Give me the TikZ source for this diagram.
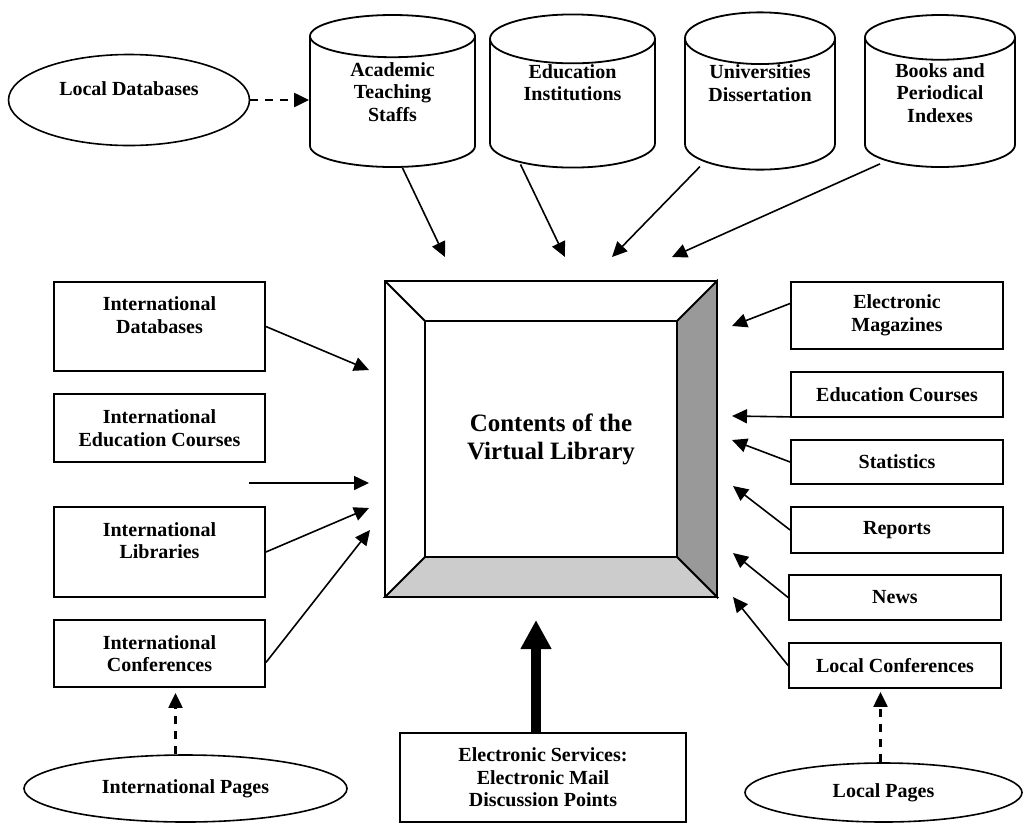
\documentclass[tikz,border=0pt]{standalone}
\usepackage{fontspec}
\setmainfont{Liberation Serif}
\usepackage{tikz}
\usetikzlibrary{shapes.geometric,arrows.meta,positioning}

\begin{document}
\begin{tikzpicture}[x=1pt, y=-1pt,
        every node/.style={font=\fontsize{20}{22.5}\selectfont\bfseries, align=center},
        box/.style={draw, line width=1.8pt, minimum width=211pt, inner sep=0pt},
        db/.style={draw, line width=1.8pt, cylinder, shape border rotate=90, aspect=0.5,
                   minimum height=152pt, inner sep=0pt, anchor=shape center, text depth=20pt},
        oval/.style={draw, line width=1.6pt, ellipse, inner sep=0pt},
        link/.style={line width=1.6pt, -{Triangle[length=15pt,width=14pt]}},
        dlink/.style={link, line width=2.2pt, dash pattern=on 8pt off 7pt}]
    \useasboundingbox (0,0) rectangle (1025,823);

    % databases on top
    \node[oval, minimum width=241pt, minimum height=91pt] (ldb) at (129,100) {Local Databases\\\mbox{}};
    \node[db, minimum width=165pt] (c1) at (392.5,91) {Academic\\Teaching\\Staffs};
    \node[db, minimum width=165pt] (c2) at (572.5,91) {Education\\Institutions\\\mbox{}};
    \node[db, minimum width=150pt] (c3) at (760,91) {Universities\\Dissertation\\\mbox{}};
    \node[db, minimum width=150pt] (c4) at (940,91) {Books and\\Periodical\\Indexes};

    % the library
    \node[draw, line width=1.8pt, outer sep=0pt, minimum width=332pt, minimum height=316pt] (frame) at (551,439) {};
    \filldraw[line width=1.8pt, fill=black!40] (frame.north east) -- (frame.south east)
        -- ++(-40,-40) coordinate (in-se) -- ++(0,-236) coordinate (in-ne) -- cycle;
    \filldraw[line width=1.8pt, fill=black!20] (frame.south west) -- (frame.south east)
        -- (in-se) -- ++(-252,0) coordinate (in-sw) -- cycle;
    \draw[line width=1.8pt] (frame.north west) -- ++(40,40) coordinate (in-nw) -- (in-ne);
    \draw[line width=1.8pt] (in-nw) -- (in-sw);
    \node[font=\fontsize{25}{28}\selectfont\bfseries] (lib) at (551,439) {Contents of the\\Virtual Library};

    % left side
    \node[box, minimum height=89pt] (idb) at (159.5,326.5) {International\\Databases\\\mbox{}};
    \node[box, minimum height=68pt] (iec) at (159.5,428) {International\\Education Courses};
    \node[box, minimum height=90pt] (ilib) at (159.5,552) {International\\Libraries\\\mbox{}};
    \node[box, minimum height=67pt] (iconf) at (159.5,653.5) {International\\Conferences};
    \node[oval, minimum width=323pt, minimum height=67pt] (ipg) at (185.5,788.5) {International Pages};

    % right side
    \node[box, minimum width=212pt, minimum height=67pt] (emag) at (897,315.5) {Electronic\\Magazines};
    \node[box, minimum width=212pt, minimum height=45pt] (ecrs) at (897,394.5) {Education Courses};
    \node[box, minimum width=212pt, minimum height=44pt] (stat) at (897,462) {Statistics};
    \node[box, minimum width=212pt, minimum height=46pt] (rep) at (897,530) {Reports};
    \node[box, minimum width=212pt, minimum height=45pt] (news) at (895,597.5) {News};
    \node[box, minimum width=212pt, minimum height=45pt] (lconf) at (895,665.5) {Local Conferences};
    \node[oval, minimum width=277pt, minimum height=59pt] (lpg) at (883.5,792.5) {Local Pages};

    % bottom
    \node[box, minimum width=286pt, minimum height=89pt] (esrv) at (543,777.5) {Electronic Services:\\Electronic Mail\\Discussion Points};

    % arrow ends round the library
    \foreach \n/\x/\y in {tc1/445/257, tc2/565/257, tc3/612/257, tc4/672/257,
                          tidb/369/370, tfree/369/483, tlib/369/508, tconf/370/530,
                          temag/732/326, tecrs/732/416, tstat/732/440, trep/733/486,
                          tnews/733/553, tlconf/733/597, tesrv/536/620, sfree/249/483}
        \coordinate (\n) at (\x,\y);

    \draw[dlink] (ldb.east) -- (ldb.east -| c1.west);
    \draw[link] ([xshift=10pt]c1.south) -- (tc1);
    \draw[link] ([xshift=-52pt,yshift=4pt]c2.south) -- (tc2);
    \draw[link] ([xshift=-60pt,yshift=4pt]c3.south) -- (tc3);
    \draw[link] ([xshift=-60pt,yshift=4pt]c4.south) -- (tc4);

    \draw[link] (idb.east) -- (tidb);
    \draw[link] (sfree) -- (tfree);
    \draw[link] (ilib.east) -- (tlib);
    \draw[link] ([yshift=-9pt]iconf.east) -- (tconf);
    \draw[dlink, shorten >=5pt] ([xshift=-10pt]ipg.north) -- ([xshift=-10pt]ipg.north |- iconf.south);

    \draw[link] ([yshift=12pt]emag.west) -- (temag);
    \draw[link] ([yshift=1pt]ecrs.south west) -- (tecrs);
    \draw[link] (stat.west) -- (tstat);
    \draw[link] (rep.west) -- (trep);
    \draw[link] (news.west) -- (tnews);
    \draw[link] (lconf.west) -- (tlconf);
    \draw[dlink, shorten >=3pt] ([xshift=-3pt]lpg.north) -- ([xshift=-3pt]lpg.north |- lconf.south);

    \draw[line width=10pt, -{Triangle[length=29pt,width=29pt]}] ([xshift=-7pt]esrv.north) -- (tesrv);
\end{tikzpicture}
\end{document}
